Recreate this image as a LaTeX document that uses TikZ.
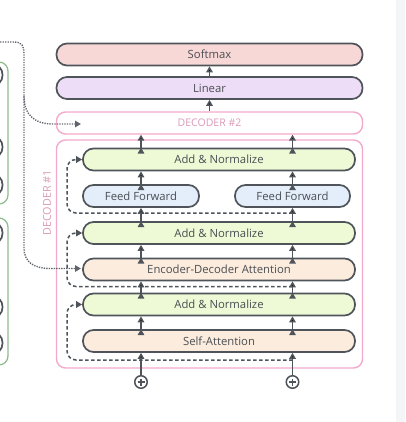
\documentclass[tikz,border=0pt]{standalone}
\usepackage{fontspec}
\setmainfont{Open Sans}
\usetikzlibrary{arrows.meta}

\definecolor{edgegray}{HTML}{4F545A}
\definecolor{txtgray}{HTML}{4A4E53}
\definecolor{decpink}{HTML}{F3A9CB}
\definecolor{encgreen}{HTML}{8FBD8E}
\definecolor{softfill}{HTML}{F8D8D6}
\definecolor{linfill}{HTML}{EEDDF6}
\definecolor{normfill}{HTML}{EEF9D6}
\definecolor{fffill}{HTML}{E3EEFA}
\definecolor{attfill}{HTML}{FCECDD}
\definecolor{stripgray}{HTML}{F4F5F7}

\tikzset{
    block/.style={draw=edgegray, line width=1.7pt, rounded corners=10.5pt,
                  minimum height=22pt, inner sep=0pt, text=txtgray,
                  font=\fontsize{11.3}{12}\selectfont},
    up/.style={draw=edgegray, line width=1.5pt,
               -{Triangle[length=6pt,width=6.5pt]}},
    resid/.style={draw=edgegray, line width=1.5pt, dash pattern=on 3.5pt off 2.5pt,
                  rounded corners=9pt, -{Triangle[length=6pt,width=6.5pt]}},
    kvline/.style={draw=edgegray!90, line width=1.4pt, dash pattern=on 1.3pt off 1.2pt,
                   -{Triangle[length=6pt,width=6.5pt]}},
    plus/.style={circle, draw=edgegray, line width=1.5pt, minimum size=12.5pt, inner sep=0pt,
                 path picture={\draw[edgegray, line width=1.3pt]
                    (path picture bounding box.center) ++(-3.5pt,0) -- ++(7pt,0)
                    (path picture bounding box.center) ++(0,-3.5pt) -- ++(0,7pt);}}
}

\begin{document}
\begin{tikzpicture}[x=1pt,y=-1pt]
\useasboundingbox (0,0) rectangle (405,422);
\clip (0,0) rectangle (405,422);
\fill[stripgray] (396,0) rectangle (405,422);

% encoders, cut off at the left edge
\begin{scope}[line width=1.3pt, rounded corners=9pt]
    \draw[encgreen] (-60,62) rectangle (8,204);
    \draw[encgreen] (-60,218) rectangle (8,365);
    \foreach \y in {75,147,185,233,307,343}
        \draw[edgegray, line width=1.7pt, rounded corners=10.5pt] (-80,\y-11) rectangle (2.5,\y+11);
\end{scope}

% decoder frames
\begin{scope}[every node/.style={draw=decpink, line width=1.4pt, rounded corners=9pt,
                                  inner sep=0pt, text=decpink!90!black,
                                  font=\fontsize{10.5}{12}\selectfont}]
    \node[minimum width=306pt, minimum height=22pt] (dec2) at (209.5,123) {DECODER \#2};
    \node[minimum width=306pt, minimum height=228pt] (dec1) at (209.5,254) {};
\end{scope}
\node[rotate=90, text=decpink!90!black, font=\fontsize{10.8}{12}\selectfont] (dec1lbl) at (47,203) {DECODER \#1};

% layers
\begin{scope}[every node/.style={block}]
    \node[fill=softfill, minimum width=306pt] (soft) at (209.5,54.5) {Softmax};
    \node[fill=linfill, minimum width=306pt] (lin) at (209.5,88) {Linear};
    \node[fill=normfill, minimum width=272pt] (norm1) at (219,159.5) {Add \& Normalize};
    \node[fill=fffill, minimum width=116pt] (ffL) at (141,196) {Feed Forward};
    \node[fill=fffill, minimum width=115pt] (ffR) at (292.5,196) {Feed Forward};
    \node[fill=normfill, minimum width=272pt] (norm2) at (219,233) {Add \& Normalize};
    \node[fill=attfill, minimum width=272pt] (encdec) at (219,269.5) {Encoder-Decoder Attention};
    \node[fill=normfill, minimum width=272pt] (norm3) at (219,304.5) {Add \& Normalize};
    \node[fill=attfill, minimum width=272pt] (self) at (219,341) {Self-Attention};
\end{scope}

\node[plus] (inL) at (141,382) {};
\node[plus] (inR) at (292.5,382) {};

% flow upwards
\path[up] (lin) edge (soft);
\path[up] (dec2) edge (lin);
\foreach \col in {inL,inR} {
    \path[up] (\col) edge (\col |- self.south);
    \path[up] (\col |- self.north) edge (\col |- norm3.south);
    \path[up] (\col |- norm3.north) edge (\col |- encdec.south);
    \path[up] (\col |- encdec.north) edge (\col |- norm2.south);
    \path[up] (\col |- norm2.north) edge (\col |- ffL.south);
    \path[up] (\col |- ffL.north) edge (\col |- norm1.south);
    \path[up] (\col |- norm1.north) edge (\col |- dec2.south);
}

% residual connections
\coordinate (lane) at (67,0);
\coordinate (res3) at (292.5,360);
\coordinate (res2) at (292.5,286.5);
\coordinate (res1) at (292.5,213);
\draw[resid] (res3) -- (res3 -| lane) |- (norm3.west);
\draw[resid] (res2) -- (res2 -| lane) |- (norm2.west);
\draw[resid] (res1) -- (res1 -| lane) |- (norm1.west);

% encoder output into the decoders
\coordinate (encout) at (0,42);
\coordinate (kv2) at (81,124);
\coordinate (kv1) at (81,268.5);
\draw[kvline] (encout) -- (14,42) .. controls (22,42) and (24,46) .. (24,54)
    -- (24,248) .. controls (24,262) and (34,268.5) .. (50,268.5) -- (kv1);
\draw[kvline] (24,96) .. controls (24,116) and (36,124) .. (52,124) -- (kv2);
\end{tikzpicture}
\end{document}
